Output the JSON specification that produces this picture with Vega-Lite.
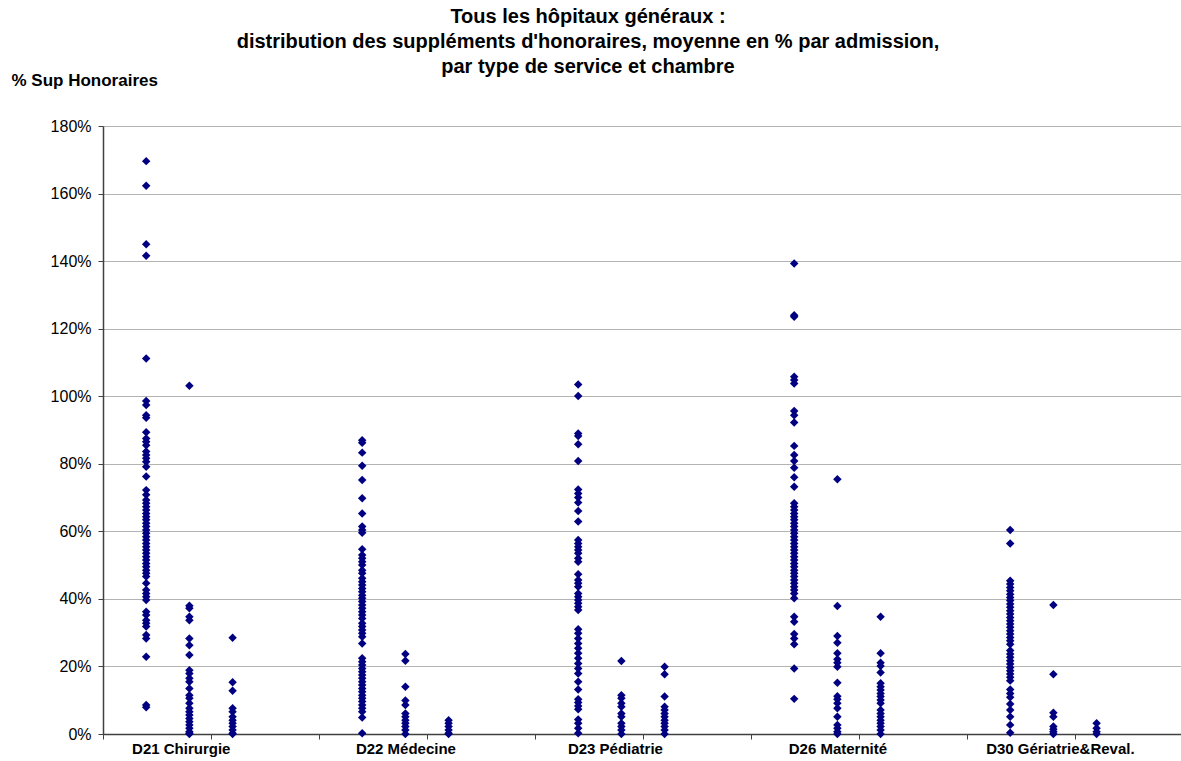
{
  "$schema": "https://vega.github.io/schema/vega-lite/v6.json",
  "autosize": {"type": "none"},
  "width": 1080,
  "height": 608,
  "padding": {"left": 103, "top": 126, "right": 0, "bottom": 27},
  "background": "white",
  "config": {"view": {"stroke": null}, "font": "Liberation Sans"},
  "title": {
    "text": ["Tous les hôpitaux généraux :", "distribution des suppléments d'honoraires, moyenne en % par admission,", "par type de service et chambre"],
    "anchor": "start",
    "frame": "group",
    "align": "center",
    "dx": 485,
    "dy": 54,
    "offset": 48,
    "font": "Liberation Sans",
    "fontSize": 20,
    "fontWeight": "bold",
    "color": "black",
    "lineHeight": 25
  },
  "datasets": {
    "pts": [
      {"pos":1,"pct":1.696},{"pos":1,"pct":1.623},{"pos":1,"pct":1.450},{"pos":1,"pct":1.416},{"pos":1,"pct":1.112},{"pos":1,"pct":0.986},{"pos":1,"pct":0.974},{"pos":1,"pct":0.944},{"pos":1,"pct":0.936},{"pos":1,"pct":0.893},{"pos":1,"pct":0.875},{"pos":1,"pct":0.865},{"pos":1,"pct":0.855},{"pos":1,"pct":0.836},{"pos":1,"pct":0.826},{"pos":1,"pct":0.816},{"pos":1,"pct":0.806},{"pos":1,"pct":0.791},{"pos":1,"pct":0.762},{"pos":1,"pct":0.722},{"pos":1,"pct":0.708},{"pos":1,"pct":0.693},{"pos":1,"pct":0.683},{"pos":1,"pct":0.673},{"pos":1,"pct":0.663},{"pos":1,"pct":0.653},{"pos":1,"pct":0.643},{"pos":1,"pct":0.634},{"pos":1,"pct":0.624},{"pos":1,"pct":0.614},{"pos":1,"pct":0.604},{"pos":1,"pct":0.594},{"pos":1,"pct":0.584},{"pos":1,"pct":0.574},{"pos":1,"pct":0.564},{"pos":1,"pct":0.554},{"pos":1,"pct":0.545},{"pos":1,"pct":0.535},{"pos":1,"pct":0.525},{"pos":1,"pct":0.515},{"pos":1,"pct":0.505},{"pos":1,"pct":0.495},{"pos":1,"pct":0.485},{"pos":1,"pct":0.476},{"pos":1,"pct":0.466},{"pos":1,"pct":0.446},{"pos":1,"pct":0.426},{"pos":1,"pct":0.416},{"pos":1,"pct":0.406},{"pos":1,"pct":0.397},{"pos":1,"pct":0.362},{"pos":1,"pct":0.352},{"pos":1,"pct":0.337},{"pos":1,"pct":0.328},{"pos":1,"pct":0.318},{"pos":1,"pct":0.293},{"pos":1,"pct":0.283},{"pos":1,"pct":0.229},{"pos":1,"pct":0.086},{"pos":1,"pct":0.079},
      {"pos":2,"pct":1.031},{"pos":2,"pct":0.380},{"pos":2,"pct":0.372},{"pos":2,"pct":0.347},{"pos":2,"pct":0.337},{"pos":2,"pct":0.283},{"pos":2,"pct":0.263},{"pos":2,"pct":0.234},{"pos":2,"pct":0.189},{"pos":2,"pct":0.179},{"pos":2,"pct":0.165},{"pos":2,"pct":0.155},{"pos":2,"pct":0.135},{"pos":2,"pct":0.115},{"pos":2,"pct":0.106},{"pos":2,"pct":0.091},{"pos":2,"pct":0.076},{"pos":2,"pct":0.066},{"pos":2,"pct":0.056},{"pos":2,"pct":0.046},{"pos":2,"pct":0.036},{"pos":2,"pct":0.027},{"pos":2,"pct":0.017},{"pos":2,"pct":0.007},{"pos":2,"pct":0.002},{"pos":2,"pct":0},
      {"pos":3,"pct":0.285},{"pos":3,"pct":0.153},{"pos":3,"pct":0.128},{"pos":3,"pct":0.076},{"pos":3,"pct":0.066},{"pos":3,"pct":0.051},{"pos":3,"pct":0.041},{"pos":3,"pct":0.032},{"pos":3,"pct":0.022},{"pos":3,"pct":0.012},{"pos":3,"pct":0.002},{"pos":3,"pct":0},
      {"pos":6,"pct":0.870},{"pos":6,"pct":0.862},{"pos":6,"pct":0.833},{"pos":6,"pct":0.794},{"pos":6,"pct":0.752},{"pos":6,"pct":0.698},{"pos":6,"pct":0.653},{"pos":6,"pct":0.614},{"pos":6,"pct":0.604},{"pos":6,"pct":0.596},{"pos":6,"pct":0.547},{"pos":6,"pct":0.530},{"pos":6,"pct":0.520},{"pos":6,"pct":0.510},{"pos":6,"pct":0.500},{"pos":6,"pct":0.485},{"pos":6,"pct":0.476},{"pos":6,"pct":0.461},{"pos":6,"pct":0.451},{"pos":6,"pct":0.441},{"pos":6,"pct":0.431},{"pos":6,"pct":0.421},{"pos":6,"pct":0.411},{"pos":6,"pct":0.402},{"pos":6,"pct":0.392},{"pos":6,"pct":0.382},{"pos":6,"pct":0.372},{"pos":6,"pct":0.362},{"pos":6,"pct":0.352},{"pos":6,"pct":0.342},{"pos":6,"pct":0.328},{"pos":6,"pct":0.318},{"pos":6,"pct":0.308},{"pos":6,"pct":0.298},{"pos":6,"pct":0.288},{"pos":6,"pct":0.268},{"pos":6,"pct":0.224},{"pos":6,"pct":0.214},{"pos":6,"pct":0.204},{"pos":6,"pct":0.194},{"pos":6,"pct":0.184},{"pos":6,"pct":0.175},{"pos":6,"pct":0.165},{"pos":6,"pct":0.155},{"pos":6,"pct":0.145},{"pos":6,"pct":0.135},{"pos":6,"pct":0.125},{"pos":6,"pct":0.115},{"pos":6,"pct":0.106},{"pos":6,"pct":0.096},{"pos":6,"pct":0.086},{"pos":6,"pct":0.076},{"pos":6,"pct":0.066},{"pos":6,"pct":0.049},{"pos":6,"pct":0.002},
      {"pos":7,"pct":0.237},{"pos":7,"pct":0.217},{"pos":7,"pct":0.140},{"pos":7,"pct":0.099},{"pos":7,"pct":0.086},{"pos":7,"pct":0.061},{"pos":7,"pct":0.051},{"pos":7,"pct":0.041},{"pos":7,"pct":0.032},{"pos":7,"pct":0.022},{"pos":7,"pct":0.012},{"pos":7,"pct":0},
      {"pos":8,"pct":0.041},{"pos":8,"pct":0.032},{"pos":8,"pct":0.022},{"pos":8,"pct":0.012},{"pos":8,"pct":0.002},{"pos":8,"pct":0},
      {"pos":11,"pct":1.035},{"pos":11,"pct":1.001},{"pos":11,"pct":0.890},{"pos":11,"pct":0.882},{"pos":11,"pct":0.858},{"pos":11,"pct":0.808},{"pos":11,"pct":0.724},{"pos":11,"pct":0.712},{"pos":11,"pct":0.700},{"pos":11,"pct":0.685},{"pos":11,"pct":0.660},{"pos":11,"pct":0.629},{"pos":11,"pct":0.574},{"pos":11,"pct":0.564},{"pos":11,"pct":0.554},{"pos":11,"pct":0.545},{"pos":11,"pct":0.535},{"pos":11,"pct":0.520},{"pos":11,"pct":0.510},{"pos":11,"pct":0.473},{"pos":11,"pct":0.456},{"pos":11,"pct":0.446},{"pos":11,"pct":0.436},{"pos":11,"pct":0.416},{"pos":11,"pct":0.406},{"pos":11,"pct":0.397},{"pos":11,"pct":0.387},{"pos":11,"pct":0.377},{"pos":11,"pct":0.367},{"pos":11,"pct":0.310},{"pos":11,"pct":0.298},{"pos":11,"pct":0.283},{"pos":11,"pct":0.268},{"pos":11,"pct":0.254},{"pos":11,"pct":0.239},{"pos":11,"pct":0.224},{"pos":11,"pct":0.209},{"pos":11,"pct":0.194},{"pos":11,"pct":0.179},{"pos":11,"pct":0.155},{"pos":11,"pct":0.132},{"pos":11,"pct":0.103},{"pos":11,"pct":0.093},{"pos":11,"pct":0.083},{"pos":11,"pct":0.073},{"pos":11,"pct":0.043},{"pos":11,"pct":0.032},{"pos":11,"pct":0.017},{"pos":11,"pct":0.002},
      {"pos":12,"pct":0.216},{"pos":12,"pct":0.115},{"pos":12,"pct":0.106},{"pos":12,"pct":0.091},{"pos":12,"pct":0.081},{"pos":12,"pct":0.061},{"pos":12,"pct":0.051},{"pos":12,"pct":0.032},{"pos":12,"pct":0.022},{"pos":12,"pct":0.012},{"pos":12,"pct":0},
      {"pos":13,"pct":0.199},{"pos":13,"pct":0.177},{"pos":13,"pct":0.111},{"pos":13,"pct":0.081},{"pos":13,"pct":0.071},{"pos":13,"pct":0.061},{"pos":13,"pct":0.051},{"pos":13,"pct":0.041},{"pos":13,"pct":0.032},{"pos":13,"pct":0.022},{"pos":13,"pct":0.012},{"pos":13,"pct":0},
      {"pos":16,"pct":1.393},{"pos":16,"pct":1.240},{"pos":16,"pct":1.235},{"pos":16,"pct":1.058},{"pos":16,"pct":1.048},{"pos":16,"pct":1.038},{"pos":16,"pct":0.956},{"pos":16,"pct":0.944},{"pos":16,"pct":0.922},{"pos":16,"pct":0.853},{"pos":16,"pct":0.826},{"pos":16,"pct":0.808},{"pos":16,"pct":0.788},{"pos":16,"pct":0.760},{"pos":16,"pct":0.732},{"pos":16,"pct":0.683},{"pos":16,"pct":0.673},{"pos":16,"pct":0.663},{"pos":16,"pct":0.653},{"pos":16,"pct":0.643},{"pos":16,"pct":0.634},{"pos":16,"pct":0.624},{"pos":16,"pct":0.614},{"pos":16,"pct":0.604},{"pos":16,"pct":0.594},{"pos":16,"pct":0.584},{"pos":16,"pct":0.574},{"pos":16,"pct":0.564},{"pos":16,"pct":0.554},{"pos":16,"pct":0.545},{"pos":16,"pct":0.535},{"pos":16,"pct":0.525},{"pos":16,"pct":0.515},{"pos":16,"pct":0.505},{"pos":16,"pct":0.495},{"pos":16,"pct":0.485},{"pos":16,"pct":0.476},{"pos":16,"pct":0.466},{"pos":16,"pct":0.456},{"pos":16,"pct":0.446},{"pos":16,"pct":0.436},{"pos":16,"pct":0.426},{"pos":16,"pct":0.416},{"pos":16,"pct":0.402},{"pos":16,"pct":0.347},{"pos":16,"pct":0.332},{"pos":16,"pct":0.296},{"pos":16,"pct":0.283},{"pos":16,"pct":0.266},{"pos":16,"pct":0.194},{"pos":16,"pct":0.104},
      {"pos":17,"pct":0.754},{"pos":17,"pct":0.379},{"pos":17,"pct":0.290},{"pos":17,"pct":0.270},{"pos":17,"pct":0.239},{"pos":17,"pct":0.221},{"pos":17,"pct":0.211},{"pos":17,"pct":0.199},{"pos":17,"pct":0.152},{"pos":17,"pct":0.112},{"pos":17,"pct":0.103},{"pos":17,"pct":0.091},{"pos":17,"pct":0.076},{"pos":17,"pct":0.051},{"pos":17,"pct":0.027},{"pos":17,"pct":0.017},{"pos":17,"pct":0.007},{"pos":17,"pct":0},
      {"pos":18,"pct":0.347},{"pos":18,"pct":0.239},{"pos":18,"pct":0.211},{"pos":18,"pct":0.201},{"pos":18,"pct":0.182},{"pos":18,"pct":0.150},{"pos":18,"pct":0.140},{"pos":18,"pct":0.130},{"pos":18,"pct":0.120},{"pos":18,"pct":0.111},{"pos":18,"pct":0.101},{"pos":18,"pct":0.091},{"pos":18,"pct":0.071},{"pos":18,"pct":0.061},{"pos":18,"pct":0.051},{"pos":18,"pct":0.041},{"pos":18,"pct":0.032},{"pos":18,"pct":0.022},{"pos":18,"pct":0.012},{"pos":18,"pct":0},
      {"pos":21,"pct":0.604},{"pos":21,"pct":0.564},{"pos":21,"pct":0.454},{"pos":21,"pct":0.444},{"pos":21,"pct":0.434},{"pos":21,"pct":0.424},{"pos":21,"pct":0.414},{"pos":21,"pct":0.404},{"pos":21,"pct":0.395},{"pos":21,"pct":0.385},{"pos":21,"pct":0.375},{"pos":21,"pct":0.365},{"pos":21,"pct":0.355},{"pos":21,"pct":0.345},{"pos":21,"pct":0.335},{"pos":21,"pct":0.326},{"pos":21,"pct":0.316},{"pos":21,"pct":0.306},{"pos":21,"pct":0.296},{"pos":21,"pct":0.286},{"pos":21,"pct":0.276},{"pos":21,"pct":0.266},{"pos":21,"pct":0.247},{"pos":21,"pct":0.237},{"pos":21,"pct":0.227},{"pos":21,"pct":0.217},{"pos":21,"pct":0.207},{"pos":21,"pct":0.197},{"pos":21,"pct":0.187},{"pos":21,"pct":0.178},{"pos":21,"pct":0.168},{"pos":21,"pct":0.158},{"pos":21,"pct":0.132},{"pos":21,"pct":0.120},{"pos":21,"pct":0.109},{"pos":21,"pct":0.089},{"pos":21,"pct":0.071},{"pos":21,"pct":0.051},{"pos":21,"pct":0.027},{"pos":21,"pct":0.004},
      {"pos":22,"pct":0.382},{"pos":22,"pct":0.177},{"pos":22,"pct":0.063},{"pos":22,"pct":0.051},{"pos":22,"pct":0.022},{"pos":22,"pct":0.014},{"pos":22,"pct":0.007},{"pos":22,"pct":0},
      {"pos":23,"pct":0.032},{"pos":23,"pct":0.017},{"pos":23,"pct":0.007},{"pos":23,"pct":0}
    ]
  },
  "data": {"name": "pts"},
  "mark": {"type": "point", "shape": "diamond", "filled": true, "size": 72, "color": "#000080", "opacity": 1, "clip": false},
  "encoding": {
    "x": {
      "field": "pos",
      "type": "quantitative",
      "scale": {"domain": [0, 25], "nice": false, "zero": false},
      "axis": {
        "title": null,
        "grid": false,
        "values": [0, 1.8, 2.5, 5, 7, 7.5, 10, 11.85, 12.5, 15, 17, 17.5, 20, 22.15, 22.5, 25],
        "labelExpr": "datum.value == 1.8 ? 'D21 Chirurgie' : datum.value == 7 ? 'D22 Médecine' : datum.value == 11.85 ? 'D23 Pédiatrie' : datum.value == 17 ? 'D26 Maternité' : datum.value == 22.15 ? 'D30 Gériatrie&Reval.' : ''",
        "labelOverlap": false,
        "labelBound": false,
        "labelFlush": false,
        "labelFont": "Liberation Sans",
        "labelFontSize": 15,
        "labelFontWeight": "bold",
        "labelColor": "black",
        "labelPadding": 2,
        "tickSize": 5,
        "tickColor": "#404040",
        "tickOpacity": {"condition": {"test": "datum.value % 2.5 === 0", "value": 1}, "value": 0},
        "domainColor": "#404040",
        "domainWidth": 1.5
      }
    },
    "y": {
      "field": "pct",
      "type": "quantitative",
      "scale": {"domain": [0, 1.8], "nice": false, "zero": true},
      "axis": {
        "title": "% Sup Honoraires",
        "titleAngle": 0,
        "titleAlign": "left",
        "titleBaseline": "middle",
        "titleX": -92,
        "titleY": -46,
        "titleFont": "Liberation Sans",
        "titleFontSize": 17,
        "titleFontWeight": "bold",
        "titleColor": "black",
        "values": [0, 0.2, 0.4, 0.6, 0.8, 1.0, 1.2, 1.4, 1.6, 1.8],
        "format": ".0%",
        "labelFont": "Liberation Sans",
        "labelFontSize": 16,
        "labelColor": "black",
        "labelPadding": 7,
        "tickSize": 5,
        "tickColor": "#404040",
        "domainColor": "#404040",
        "domainWidth": 1.5,
        "grid": true,
        "gridColor": "#666666",
        "gridDash": [1, 1],
        "gridWidth": 1
      }
    }
  }
}
